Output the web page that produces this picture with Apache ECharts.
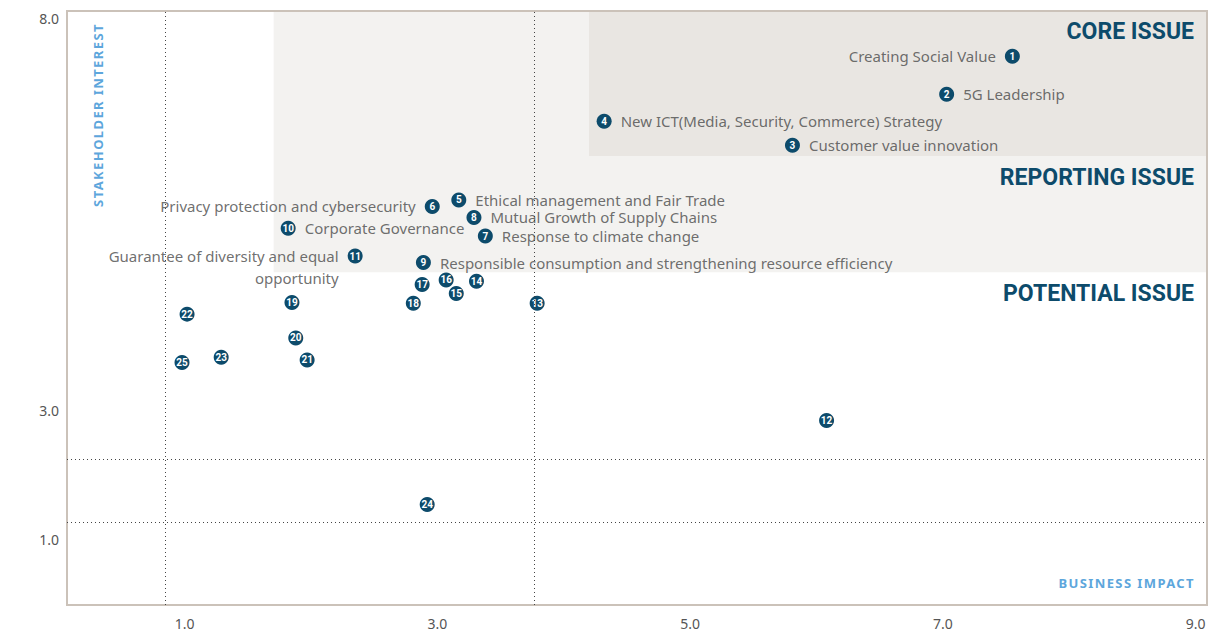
<!DOCTYPE html>
<html>
<head>
<meta charset="utf-8">
<script src="https://cdn.jsdelivr.net/npm/echarts@6/dist/echarts.min.js"></script>
<style>
    html, body { margin: 0; padding: 0; background: #fff; }
    #matrix { width: 1231px; height: 631px; }
    /* axis captions are letter-spaced */
    #matrix text[fill="#5da6dc"] { letter-spacing: 1.4px; }
</style>
</head>
<body>
<div id="matrix"></div>
<script>
// issue numbers, business impact (x) and stakeholder interest (y)
var issueNo = [1, 2, 3, 4, 5, 6, 7, 8, 9, 10, 11, 12, 13, 14, 15, 16, 17, 18, 19, 20, 21, 22, 23, 24, 25];
var impact = [7.55, 7.03, 5.81, 4.32, 3.17, 2.96, 3.38, 3.29, 2.89, 1.82, 2.35, 6.08, 3.79, 3.31, 3.15, 3.07, 2.88, 2.81, 1.85, 1.88, 1.97, 1.02, 1.29, 2.92, 0.98];
var interest = [8.49, 7.9, 7.11, 7.48, 6.26, 6.16, 5.7, 5.99, 5.29, 5.82, 5.39, 2.84, 4.66, 5.0, 4.81, 5.02, 4.95, 4.66, 4.67, 4.12, 3.78, 4.49, 3.82, 1.54, 3.74];
var issueNames = [
    "Creating Social Value",
    "5G Leadership",
    "Customer value innovation",
    "New ICT(Media, Security, Commerce) Strategy",
    "Ethical management and Fair Trade",
    "Privacy protection and cybersecurity",
    "Response to climate change",
    "Mutual Growth of Supply Chains",
    "Responsible consumption and strengthening resource efficiency",
    "Corporate Governance",
    "Guarantee of diversity and equal\nopportunity",
];

var xTickValues = [1, 3, 5, 7, 9];
var xTickLabels = ["1.0", "3.0", "5.0", "7.0", "9.0"];
var yTickValues = [1, 3, 9.07];
var yTickLabels = ["1.0", "3.0", "8.0"];

// zone bounds and dotted guide lines (axis units)
var reportingZone = { x: 1.705, y: 5.14 };
var coreZone = { x: 4.2, y: 6.94 };
var guideX = [0.85, 3.77];
var guideY = [2.24, 1.26];

var xMin = 0.07, xMax = 9.09;
var yMin = -0.02, yMax = 9.19;

var chart = echarts.init(document.getElementById("matrix"), null, { renderer: "svg" });

var navy = "#0d4b6b";
var leftLabeled = [1, 6, 11];

var dots = issueNo.map(function (n, i) {
    return [impact[i], interest[i], n];
});

var named = [];
issueNames.forEach(function (name, i) {
    var isLeft = leftLabeled.indexOf(issueNo[i]) >= 0;
    var item = {
        value: [impact[i], interest[i]],
        name: name,
        label: { position: isLeft ? "left" : "right" },
    };
    if (name.indexOf("\n") >= 0) {
        // two-line label: first line sits level with the marker
        item.label.lineHeight = 22;
        item.label.offset = [0, 11];
    }
    named.push(item);
});

var option = {
    backgroundColor: "#fff",
    animation: false,
    grid: {
        left: 67,
        right: 24,
        top: 11,
        bottom: 26,
        show: true,
        z: 5,
        backgroundColor: "transparent",
        borderColor: "#cbc2b9",
        borderWidth: 2,
    },
    xAxis: {
        type: "value",
        min: xMin,
        max: xMax,
        axisLine: { show: false },
        axisTick: { show: false },
        splitLine: { show: false },
        axisLabel: {
            customValues: xTickValues,
            margin: 11,
            color: "#555",
            fontSize: 14,
            fontFamily: "Noto Sans",
            formatter: function (v) {
                var k = xTickValues.indexOf(v);
                return k >= 0 ? xTickLabels[k] : "";
            },
        },
    },
    yAxis: {
        type: "value",
        min: yMin,
        max: yMax,
        axisLine: { show: false },
        axisTick: { show: false },
        splitLine: { show: false },
        axisLabel: {
            customValues: yTickValues,
            margin: 8,
            color: "#555",
            fontSize: 14,
            fontFamily: "Noto Sans",
            formatter: function (v) {
                var k = yTickValues.indexOf(v);
                return k >= 0 ? yTickLabels[k] : "";
            },
        },
    },
    graphic: [
        {
            type: "text",
            right: 37,
            top: 20,
            z: 20,
            style: { text: "CORE ISSUE", fill: navy, font: "bold 23px Roboto" },
        },
        {
            type: "text",
            right: 37,
            top: 166,
            z: 20,
            style: { text: "REPORTING ISSUE", fill: navy, font: "bold 23px Roboto" },
        },
        {
            type: "text",
            right: 37,
            top: 282,
            z: 20,
            style: { text: "POTENTIAL ISSUE", fill: navy, font: "bold 23px Roboto" },
        },
        {
            type: "text",
            right: 57,
            top: 576,
            z: 20,
            style: { text: "BUSINESS IMPACT", fill: "#5da6dc", font: "bold 13px 'Noto Sans'" },
        },
        {
            type: "text",
            x: 98,
            y: 115,
            z: 20,
            rotation: Math.PI / 2,
            style: {
                text: "STAKEHOLDER INTEREST",
                fill: "#5da6dc",
                font: "bold 13px 'Noto Sans'",
                align: "center",
                verticalAlign: "middle",
            },
        },
    ],
    series: [
        {
            // zones
            type: "scatter",
            z: 1,
            silent: true,
            data: [],
            markArea: {
                silent: true,
                data: [
                    [
                        { xAxis: reportingZone.x, yAxis: reportingZone.y, itemStyle: { color: "#f3f2f0" } },
                        { xAxis: xMax, yAxis: yMax },
                    ],
                    [
                        { xAxis: coreZone.x, yAxis: coreZone.y, itemStyle: { color: "#e9e6e2" } },
                        { xAxis: xMax, yAxis: yMax },
                    ],
                ],
            },
        },
        {
            // dotted guide lines
            type: "scatter",
            z: 2,
            silent: true,
            data: [],
            markLine: {
                silent: true,
                symbol: "none",
                label: { show: false },
                lineStyle: { type: [1, 3], color: "#444", width: 1, opacity: 1 },
                data: guideX.map(function (v) { return { xAxis: v }; })
                    .concat(guideY.map(function (v) { return { yAxis: v }; })),
            },
        },
        {
            // issue names next to the markers
            type: "scatter",
            z: 3,
            symbolSize: 15,
            itemStyle: { color: "transparent" },
            data: named,
            label: {
                show: true,
                distance: 9,
                color: "#4a4a4a",
                fontSize: 15,
                fontFamily: "Noto Sans",
                lineHeight: 15,
                formatter: "{b}",
            },
        },
        {
            type: "scatter",
            z: 4,
            symbolSize: 15,
            itemStyle: { color: navy, opacity: 1 },
            data: dots,
            label: {
                show: true,
                position: "inside",
                color: "#fff",
                fontSize: 10,
                fontWeight: "bold",
                fontFamily: "Roboto",
                formatter: function (p) {
                    return p.value[2];
                },
            },
        },
    ],
};

chart.setOption(option);
</script>
</body>
</html>
